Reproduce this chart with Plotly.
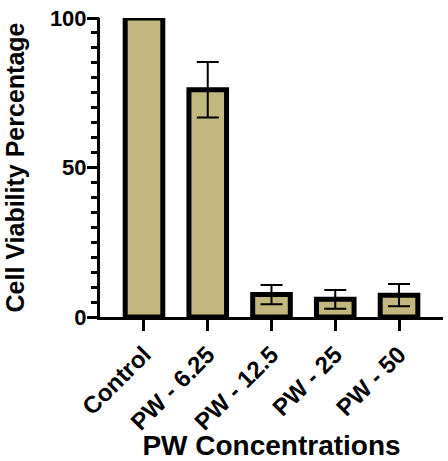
import plotly.graph_objects as go

# Cell viability (%) for each treatment group, mean and error
groups = ["Control", "PW - 6.25", "PW - 12.5", "PW - 25", "PW - 50"]
viability = [100, 76.0, 7.5, 5.9, 7.3]
viability_err = [0, 9.3, 3.2, 3.1, 3.7]
y_major = [0, 50, 100]
y_minor = list(range(0, 101, 5))

FONT = "Liberation Sans, Arial, sans-serif"
BAR_FILL = "#C2B77F"
Y_RANGE = [0, 100]

fig = go.Figure()
fig.add_trace(go.Bar(
    x=groups,
    y=viability,
    width=0.59,
    marker=dict(color=BAR_FILL, line=dict(color="#000000", width=5)),
    cliponaxis=False,
    showlegend=False,
    hoverinfo="skip",
))
# error bars on the overlay axis (identical range), drawn above the bars
fig.add_trace(go.Scatter(
    x=groups,
    y=viability,
    yaxis="y2",
    mode="markers",
    marker=dict(size=1, color="rgba(0,0,0,0)"),
    error_y=dict(type="data", array=viability_err, visible=True,
                 color="black", thickness=2, width=11),
    cliponaxis=False,
    showlegend=False,
))

fig.update_layout(
    width=448, height=461,
    template="none",
    paper_bgcolor="white", plot_bgcolor="white",
    margin=dict(l=100, r=5, t=18, b=144),
    font=dict(family=FONT, color="black"),
)

fig.update_xaxes(
    range=[-0.69, 4.69],
    showline=True, linecolor="black", linewidth=3,
    ticks="outside", ticklen=11, tickwidth=3, tickcolor="black",
    tickangle=-45,
    tickfont=dict(family=FONT, size=24, weight="bold", color="black"),
    title=dict(text="PW Concentrations", standoff=10,
               font=dict(family=FONT, size=28, weight="bold", color="black")),
    showgrid=False, zeroline=False, automargin=False,
)

fig.update_layout(
    # short ticks every 5 units, labels at the major values
    yaxis=dict(
        range=Y_RANGE,
        tickmode="array", tickvals=y_minor,
        ticktext=[str(v) if v in y_major else "" for v in y_minor],
        showline=True, linecolor="black", linewidth=3,
        ticks="outside", ticklen=6, tickwidth=3, tickcolor="black",
        tickfont=dict(family=FONT, size=22, weight="bold", color="black"),
        title=dict(text="Cell Viability Percentage", standoff=19,
                   font=dict(family=FONT, size=25, weight="bold", color="black")),
        showgrid=False, zeroline=False, automargin=False,
    ),
    # long ticks at the major values
    yaxis2=dict(
        overlaying="y", side="left", anchor="x",
        range=Y_RANGE,
        tickmode="array", tickvals=y_major,
        ticks="outside", ticklen=12, tickwidth=3, tickcolor="black",
        showticklabels=False, showline=False,
        showgrid=False, zeroline=False, automargin=False,
    ),
)

fig.write_html("out.html")
